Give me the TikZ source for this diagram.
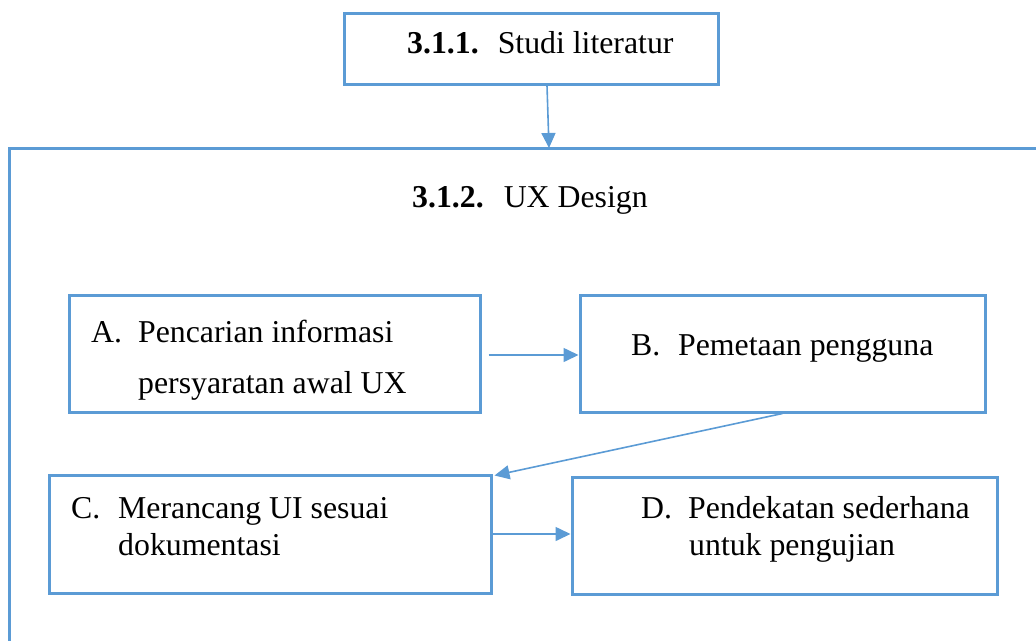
\documentclass[tikz,border=0pt]{standalone}
\usepackage{fontspec}
\setmainfont{Liberation Serif}
\usetikzlibrary{arrows.meta}
\definecolor{wordblue}{RGB}{91,155,213}
\tikzset{
  boxnode/.style={draw=wordblue, line width=3pt, rectangle, inner sep=0pt},
  txt/.style={anchor=base west, inner sep=0pt, font=\fontsize{31.8}{38}\selectfont, text=black},
  conn/.style={draw=wordblue, line width=1.6pt, -{Triangle[length=15pt,width=14pt]}}
}
\newcommand{\lbl}[1]{\makebox[47pt][l]{#1}}
\begin{document}
\begin{tikzpicture}[x=1pt,y=-1pt]
\useasboundingbox (0,0) rectangle (1036,640);
% outer UX Design box (continues beyond the picture edges)
\draw[draw=wordblue, line width=3pt] (9,148) rectangle (1120,720);
\coordinate (uxtop) at (549,148);
% boxes
\node[boxnode, minimum width=374pt, minimum height=71pt] (top) at (531,48.5) {};
\node[boxnode, minimum width=411pt, minimum height=117pt] (A) at (274.5,353.5) {};
\node[boxnode, minimum width=405pt, minimum height=117pt] (B) at (782.5,353.5) {};
\node[boxnode, minimum width=442pt, minimum height=118pt] (C) at (270,534) {};
\node[boxnode, minimum width=425pt, minimum height=117pt] (D) at (784.5,535.5) {};
% texts
\node[txt] (t1) at (407,53) {\textbf{3.1.1.}\hspace{19pt}Studi literatur};
\node[txt] (t2) at (412,207) {\textbf{3.1.2.}\hspace{20pt}UX Design};
\node[txt] (ta1) at (91,342) {\lbl{A.}Pencarian informasi};
\node[txt] (ta2) at (138,393) {persyaratan awal UX};
\node[txt] (tb1) at (631,355) {\lbl{B.}Pemetaan pengguna};
\node[txt] (tc1) at (71,518) {\lbl{C.}Merancang UI sesuai};
\node[txt] (tc2) at (118,555) {dokumentasi};
\node[txt] (td1) at (641,518) {\lbl{D.}Pendekatan sederhana};
\node[txt] (td2) at (689,555) {untuk pengujian};
% connectors
\draw[conn] ([xshift=16pt]top.south) -- (uxtop);
\draw[conn, shorten <=7pt] ([yshift=-1.5pt]A.east) -- ([yshift=-1.5pt]A.east -| B.west);
\draw[conn] (B.south) -- ([xshift=2pt,yshift=-2pt]C.north east);
\draw[conn] (C.east) -- (C.east -| D.west);
\end{tikzpicture}
\end{document}
